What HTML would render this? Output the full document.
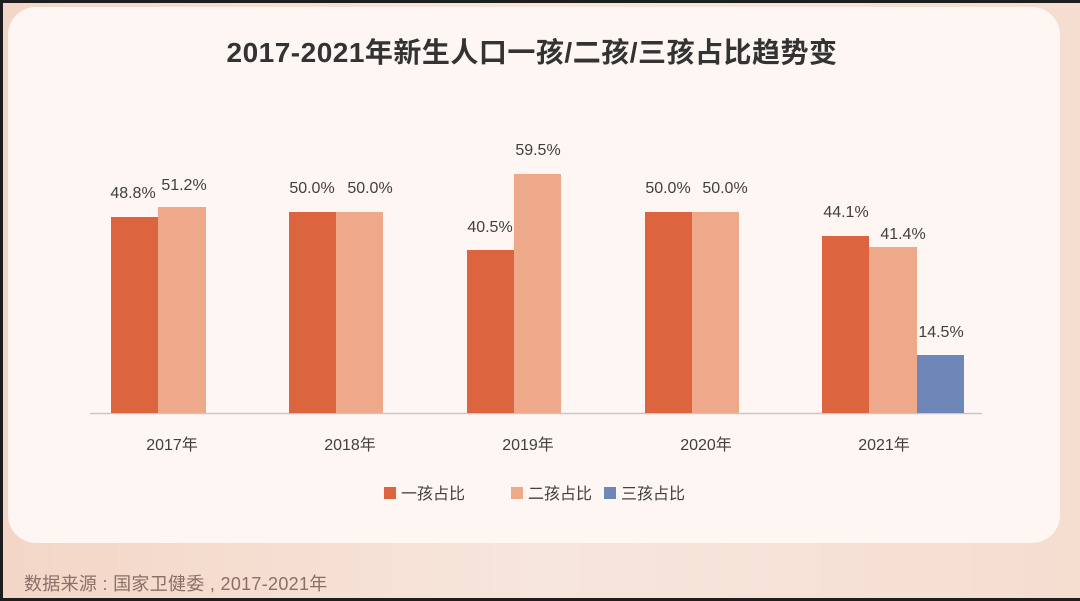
<!DOCTYPE html>
<html><head><meta charset="utf-8"><style>
body{margin:0;width:1080px;height:601px;overflow:hidden;background:#1e1e1e;font-family:"Liberation Sans","Noto Sans CJK SC",sans-serif}
#bg{position:absolute;left:3px;top:3px;width:1077px;height:595px;background:linear-gradient(90deg,#f3d6c6,#f7e6dd 50%,#f5ddd0)}
#card{position:absolute;left:8px;top:7px;width:1052px;height:536px;background:#fdf6f3;border-radius:28px}
</style></head><body>
<div id="bg"></div><div id="card"></div>
<svg width="1080" height="601" style="position:absolute;left:0;top:0" font-family="Liberation Sans, Noto Sans CJK SC, sans-serif">
<text x="532" y="62" text-anchor="middle" font-size="28" font-weight="bold" fill="#333" letter-spacing="0.5">2017-2021年新生人口一孩/二孩/三孩占比趋势变</text>
<line x1="90" y1="413.5" x2="982" y2="413.5" stroke="#c8c8c8" stroke-width="1.5"/>
<g fill="#dc6540">
<rect x="111" y="217" width="47" height="196"/>
<rect x="289" y="212" width="47" height="201"/>
<rect x="467" y="250" width="47" height="163"/>
<rect x="645" y="212" width="47" height="201"/>
<rect x="822" y="236" width="47" height="177"/>
</g>
<g fill="#eda98a">
<rect x="158" y="207" width="48" height="206"/>
<rect x="336" y="212" width="47" height="201"/>
<rect x="514" y="174" width="47" height="239"/>
<rect x="692" y="212" width="47" height="201"/>
<rect x="869" y="247" width="48" height="166"/>
</g>
<rect x="917" y="355" width="47" height="58" fill="#6f86b8"/>
<g font-size="16" fill="#404040" text-anchor="middle">
<text x="133" y="198">48.8%</text><text x="184" y="190">51.2%</text>
<text x="312" y="193">50.0%</text><text x="370" y="193">50.0%</text>
<text x="490" y="232">40.5%</text><text x="538" y="155">59.5%</text>
<text x="668" y="193">50.0%</text><text x="725" y="193">50.0%</text>
<text x="846" y="217">44.1%</text><text x="903" y="239">41.4%</text>
<text x="941" y="337">14.5%</text>
<text x="172" y="450">2017年</text><text x="350" y="450">2018年</text>
<text x="528" y="450">2019年</text><text x="706" y="450">2020年</text>
<text x="884" y="450">2021年</text>
</g>
<g font-size="16" fill="#404040">
<rect x="384" y="487" width="12" height="12" fill="#dc6540"/><text x="401" y="499">一孩占比</text>
<rect x="511" y="487" width="12" height="12" fill="#eda98a"/><text x="528" y="499">二孩占比</text>
<rect x="604" y="487" width="12" height="12" fill="#6f86b8"/><text x="621" y="499">三孩占比</text>
</g>
<text x="24" y="590" font-size="18" fill="#8a6f66" letter-spacing="0.3">数据来源 : 国家卫健委 , 2017-2021年</text>
</svg>
</body></html>
